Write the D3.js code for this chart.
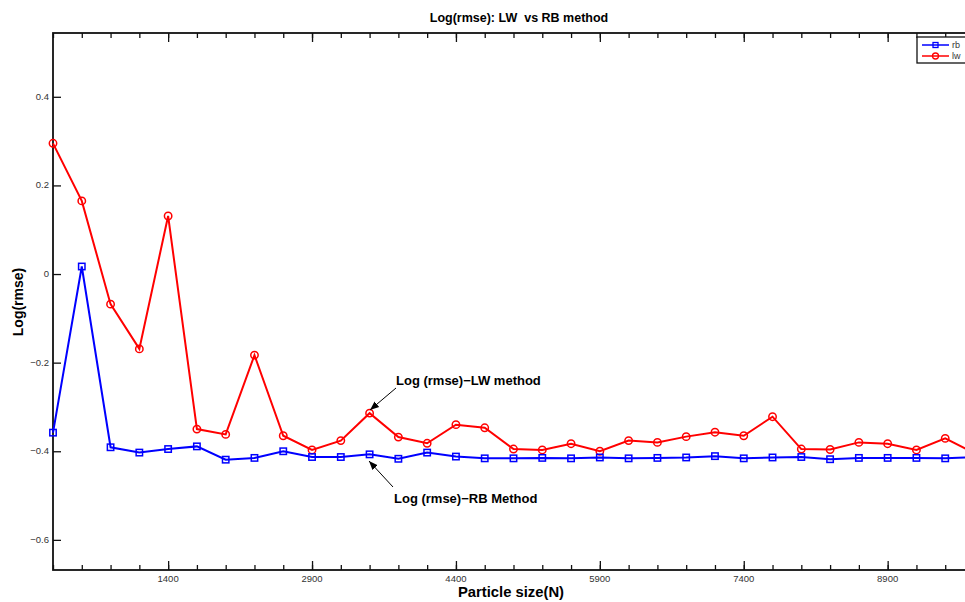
<!DOCTYPE html>
<html lang="en">
    <head>
       <meta charset="utf-8">
       <script src="https://d3js.org/d3.v7.min.js"></script>
       <style>
          body { margin: 0; background: #fff; }
          text { font-family: "Liberation Sans", Arial, Helvetica, sans-serif; }
       </style>
    </head>
    <body>

        <script>
            var width  = 965;
            var height = 602;

            // particle sizes (x) and the two error curves
            var particle_size = [200, 500, 800, 1100, 1400, 1700, 2000, 2300, 2600, 2900, 3200,
                                 3500, 3800, 4100, 4400, 4700, 5000, 5300, 5600, 5900, 6200,
                                 6500, 6800, 7100, 7400, 7700, 8000, 8300, 8600, 8900, 9200,
                                 9500, 9800];
            var rb = [-0.358, 0.017, -0.391, -0.403, -0.395, -0.389, -0.419, -0.415, -0.400, -0.413, -0.413,
                      -0.407, -0.417, -0.403, -0.412, -0.416, -0.416, -0.415, -0.416, -0.414, -0.416,
                      -0.415, -0.414, -0.411, -0.416, -0.414, -0.413, -0.418, -0.415, -0.415, -0.415,
                      -0.416, -0.413];
            var lw = [0.295, 0.165, -0.068, -0.169, 0.131, -0.350, -0.362, -0.183, -0.365, -0.397, -0.376,
                      -0.314, -0.368, -0.382, -0.340, -0.347, -0.395, -0.397, -0.383, -0.400, -0.376,
                      -0.380, -0.367, -0.357, -0.365, -0.322, -0.395, -0.396, -0.380, -0.383, -0.397,
                      -0.371, -0.404];

            var x_ticks = [1400, 2900, 4400, 5900, 7400, 8900];
            var y_ticks = [0.4, 0.2, 0, -0.2, -0.4, -0.6];

            // axes box (right edge sits just past the picture, like the cropped original)
            var ax_left = 53, ax_right = 974, ax_top = 33, ax_bottom = 570;

            var x = d3.scaleLinear().domain([200, 9800]).range([ax_left, ax_right]);
            var y = d3.scaleLinear().domain([-0.668, 0.544]).range([ax_bottom, ax_top]);

            var fmt = function(d) { return d < 0 ? "\u2212" + Math.abs(d) : String(d); };

            var svg = d3.select("body")
                        .append("svg")
                        .attr("id", "canvas")
                        .attr("width", width)
                        .attr("height", height);

            // ticks pointing inward like matlab
            svg.append("g").attr("transform", "translate(0," + ax_bottom + ")")
               .call(d3.axisTop(x).tickValues(particle_size).tickSize(5).tickFormat(""));
            svg.append("g").attr("transform", "translate(0," + ax_top + ")")
               .call(d3.axisBottom(x).tickValues(particle_size).tickSize(5).tickFormat(""));
            svg.append("g").attr("transform", "translate(0," + ax_bottom + ")")
               .call(d3.axisTop(x).tickValues(x_ticks).tickSize(9).tickFormat(""));
            svg.append("g").attr("transform", "translate(0," + ax_top + ")")
               .call(d3.axisBottom(x).tickValues(x_ticks).tickSize(9).tickFormat(""));
            svg.append("g").attr("transform", "translate(" + ax_left + ",0)")
               .call(d3.axisRight(y).tickValues(y_ticks).tickSize(8).tickFormat(""));
            svg.append("g").attr("transform", "translate(" + ax_right + ",0)")
               .call(d3.axisLeft(y).tickValues(y_ticks).tickSize(9).tickFormat(""));
            svg.selectAll(".domain").remove();
            svg.selectAll(".tick line").attr("stroke", "#111").attr("stroke-width", 1.3);

            svg.append("rect")
               .attr("x", ax_left).attr("y", ax_top)
               .attr("width", ax_right - ax_left).attr("height", ax_bottom - ax_top)
               .attr("fill", "none").attr("stroke", "#111").attr("stroke-width", 1.8);

            // tick labels
            svg.selectAll(".xlab").data(x_ticks).enter().append("text")
               .attr("class", "xlab")
               .attr("x", function(d) { return x(d); })
               .attr("y", ax_bottom + 12)
               .attr("text-anchor", "middle")
               .attr("font-size", 9.5).attr("fill", "#333")
               .text(function(d) { return d; });
            svg.selectAll(".ylab").data(y_ticks).enter().append("text")
               .attr("class", "ylab")
               .attr("x", ax_left - 4)
               .attr("y", function(d) { return y(d) + 3; })
               .attr("text-anchor", "end")
               .attr("font-size", 9.5).attr("fill", "#333")
               .text(fmt);

            // series
            var line = d3.line().x(function(d, i) { return x(particle_size[i]); }).y(function(d) { return y(d); });

            svg.append("path").datum(lw).attr("d", line)
               .attr("fill", "none").attr("stroke", "#ff0000").attr("stroke-width", 2);
            svg.selectAll(".lwpt").data(lw).enter().append("circle")
               .attr("class", "lwpt")
               .attr("cx", function(d, i) { return x(particle_size[i]); })
               .attr("cy", function(d) { return y(d); })
               .attr("r", 3.7)
               .attr("fill", "none").attr("stroke", "#ff0000").attr("stroke-width", 1.5);

            svg.append("path").datum(rb).attr("d", line)
               .attr("fill", "none").attr("stroke", "#0000ff").attr("stroke-width", 2);
            svg.selectAll(".rbpt").data(rb).enter().append("rect")
               .attr("class", "rbpt")
               .attr("x", function(d, i) { return x(particle_size[i]) - 3.2; })
               .attr("y", function(d) { return y(d) - 3.2; })
               .attr("width", 6.4).attr("height", 6.4)
               .attr("fill", "none").attr("stroke", "#0000ff").attr("stroke-width", 1.5);

            // annotations
            var defs = svg.append("defs");
            defs.append("marker").attr("id", "arr")
                .attr("viewBox", "0 0 10 10").attr("refX", 10).attr("refY", 5)
                .attr("markerWidth", 9).attr("markerHeight", 9).attr("orient", "auto")
                .attr("markerUnits", "userSpaceOnUse")
                .append("path").attr("d", "M0,1 L10,5 L0,9 z").attr("fill", "#000");

            svg.append("line")
               .attr("x1", 396).attr("y1", 388).attr("x2", 370).attr("y2", 410)
               .attr("stroke", "#000").attr("stroke-width", 1).attr("marker-end", "url(#arr)");
            svg.append("line")
               .attr("x1", 393).attr("y1", 487).attr("x2", 369).attr("y2", 461)
               .attr("stroke", "#000").attr("stroke-width", 1).attr("marker-end", "url(#arr)");

            svg.append("text").attr("x", 396).attr("y", 385)
               .attr("font-size", 13).attr("font-weight", "bold")
               .text("Log (rmse)\u2212LW method");
            svg.append("text").attr("x", 394).attr("y", 503)
               .attr("font-size", 13).attr("font-weight", "bold")
               .text("Log (rmse)\u2212RB Method");

            // titles
            svg.append("text").attr("x", 519).attr("y", 22)
               .attr("text-anchor", "middle").attr("font-size", 12.5).attr("font-weight", "bold")
               .attr("xml:space", "preserve")
               .text("Log(rmse): LW  vs RB method");
            svg.append("text").attr("x", 511).attr("y", 597)
               .attr("text-anchor", "middle").attr("font-size", 14.8).attr("font-weight", "bold")
               .text("Particle size(N)");
            svg.append("text")
               .attr("transform", "translate(23,302) rotate(-90)")
               .attr("text-anchor", "middle").attr("font-size", 14).attr("font-weight", "bold")
               .text("Log(rmse)");

            // legend
            var lg = svg.append("g").attr("transform", "translate(917,37)");
            lg.append("rect").attr("width", 54).attr("height", 26)
              .attr("fill", "#fff").attr("stroke", "#111").attr("stroke-width", 1.3);
            lg.append("line").attr("x1", 5).attr("x2", 32).attr("y1", 8).attr("y2", 8)
              .attr("stroke", "#0000ff").attr("stroke-width", 1.5);
            lg.append("rect").attr("x", 16).attr("y", 5.5).attr("width", 5).attr("height", 5)
              .attr("fill", "none").attr("stroke", "#0000ff").attr("stroke-width", 1.3);
            lg.append("text").attr("x", 35).attr("y", 11).attr("font-size", 9).attr("fill", "#333").text("rb");
            lg.append("line").attr("x1", 5).attr("x2", 32).attr("y1", 19).attr("y2", 19)
              .attr("stroke", "#ff0000").attr("stroke-width", 1.5);
            lg.append("circle").attr("cx", 18.5).attr("cy", 19).attr("r", 3)
              .attr("fill", "none").attr("stroke", "#ff0000").attr("stroke-width", 1.3);
            lg.append("text").attr("x", 35).attr("y", 22).attr("font-size", 9).attr("fill", "#333").text("lw");
        </script>

    </body>
</html>
